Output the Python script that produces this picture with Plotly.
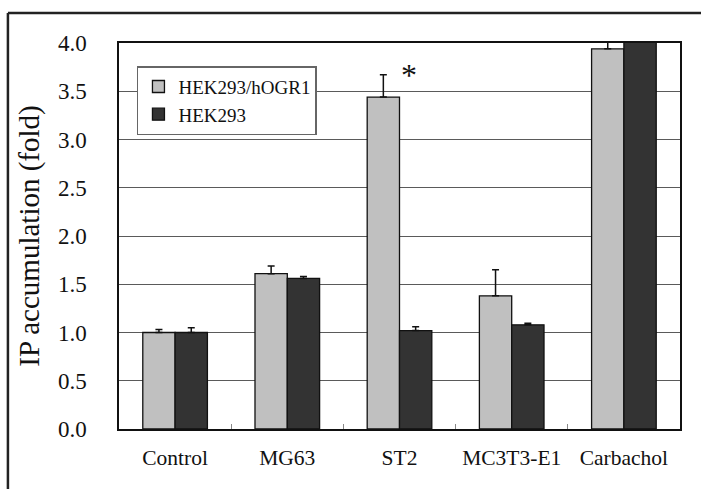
import plotly.graph_objects as go

# IP accumulation (fold over control) for each stimulus
categories = ["Control", "MG63", "ST2", "MC3T3-E1", "Carbachol"]
hogr1_vals = [1.00, 1.61, 3.44, 1.38, 3.94]
hogr1_err = [0.03, 0.08, 0.23, 0.27, 0.10]
hek_vals = [1.00, 1.56, 1.02, 1.08, 4.35]
hek_err = [0.05, 0.02, 0.04, 0.015, 0.10]
y_ticks = [0.0, 0.5, 1.0, 1.5, 2.0, 2.5, 3.0, 3.5, 4.0]

SERIF = "Liberation Serif"

fig = go.Figure()
fig.add_trace(go.Bar(
    name="HEK293/hOGR1", x=categories, y=hogr1_vals,
    marker=dict(color="#c0c0c0", line=dict(color="#111111", width=1.3)),
    error_y=dict(type="data", symmetric=False, array=hogr1_err,
                 arrayminus=[0] * len(hogr1_err),
                 color="#111111", thickness=1.5, width=3.5),
))
fig.add_trace(go.Bar(
    name="HEK293", x=categories, y=hek_vals,
    marker=dict(color="#333333", line=dict(color="#111111", width=1.3)),
    error_y=dict(type="data", symmetric=False, array=hek_err,
                 arrayminus=[0] * len(hek_err),
                 color="#111111", thickness=1.5, width=3.5),
))

# significance mark above the ST2 HEK293/hOGR1 bar
st2 = categories.index("ST2")
fig.add_annotation(
    x="ST2", y=hogr1_vals[st2] + hogr1_err[st2], xshift=9, yshift=0,
    text="*", showarrow=False, yanchor="middle",
    font=dict(family=SERIF, size=32, color="#111111"),
)

# figure frame: top and left edges
fig.add_shape(type="line", xref="paper", yref="paper",
              x0=-0.198, x1=1.06, y0=1.0777, y1=1.0777,
              line=dict(color="#222222", width=2.5))
fig.add_shape(type="line", xref="paper", yref="paper",
              x0=-0.198, x1=-0.198, y0=1.0777, y1=-0.2,
              line=dict(color="#222222", width=2.5))

fig.update_layout(
    width=701, height=489,
    margin=dict(l=119, r=21, t=43, b=60),
    paper_bgcolor="white", plot_bgcolor="white",
    barmode="group", bargap=0.424, bargroupgap=0,
    font=dict(family=SERIF, color="#111111"),
    legend=dict(
        x=0.032, y=0.94, xanchor="left", yanchor="top",
        bgcolor="white", bordercolor="#666666", borderwidth=1.5,
        font=dict(family=SERIF, size=19, color="#111111"),
        itemwidth=30,
    ),
    showlegend=True,
)
fig.update_xaxes(
    type="category", showline=True, mirror=True,
    linecolor="#111111", linewidth=1.5,
    ticks="inside", tickson="boundaries", ticklen=5,
    tickcolor="#888888", tickwidth=1,
    ticklabelstandoff=8,
    tickfont=dict(family=SERIF, size=21.5, color="#111111"),
    showgrid=False,
)
fig.update_yaxes(
    range=[0, 4.0], tickvals=y_ticks,
    ticktext=[f"{v:.1f}" for v in y_ticks],
    showline=True, mirror=True, linecolor="#111111", linewidth=1.5,
    showgrid=True, gridcolor="#5a5a5a", gridwidth=1.2,
    zeroline=False, ticks="",
    ticklabelstandoff=26,
    tickfont=dict(family=SERIF, size=23, color="#111111"),
    title=dict(text="IP accumulation (fold)", standoff=10,
               font=dict(family=SERIF, size=29, color="#111111")),
)

fig.write_html("out.html")
